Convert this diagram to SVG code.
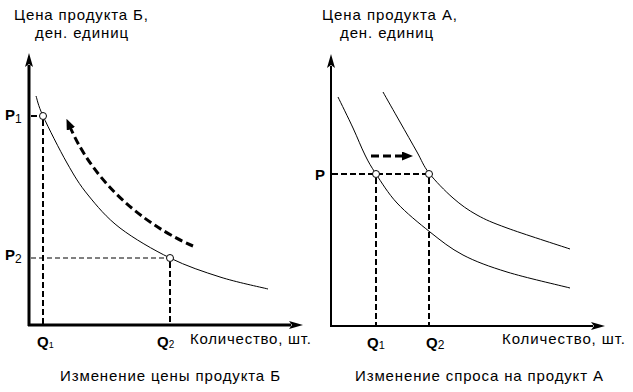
<svg xmlns="http://www.w3.org/2000/svg" width="633" height="392" viewBox="0 0 633 392">
  <style>
    text { font-family: "Liberation Sans", Arial, sans-serif; fill: #000; }
    .t { font-size: 15px; }
    .lb { font-size: 15px; font-weight: bold; }
    .sub { font-weight: normal; }
    .axisL { stroke: #000; stroke-width: 3; fill: none; }
    .axisR { stroke: #000; stroke-width: 2; fill: none; }
    .curve { stroke: #000; stroke-width: 1; fill: none; }
    .guide { stroke: #000; stroke-width: 2; fill: none; stroke-dasharray: 6 3; }
    .guideThin { stroke: #000; stroke-width: 1; fill: none; stroke-dasharray: 5 3; }
    .move { stroke: #000; stroke-width: 3; fill: none; stroke-dasharray: 8 4; }
    .pt { fill: #fff; stroke: #000; stroke-width: 1; }
  </style>
  <defs>
    <marker id="ax" markerUnits="userSpaceOnUse" viewBox="0 0 14 8" refX="2" refY="4" markerWidth="14" markerHeight="8" orient="auto">
      <path d="M0,0 L14,4 L0,8 L3,4 z" fill="#000"/>
    </marker>
    <marker id="ah" markerUnits="userSpaceOnUse" viewBox="0 0 11 9" refX="1" refY="4.5" markerWidth="11" markerHeight="9" orient="auto">
      <path d="M0,0 L11,4.5 L0,9 z" fill="#000"/>
    </marker>
  </defs>

  <!-- Left chart -->
  <g id="left-chart">
    <g id="left-axes">
      <line class="axisL" x1="29" y1="326" x2="29" y2="65" marker-end="url(#ax)"/>
      <line class="axisL" x1="28" y1="325" x2="291" y2="325" marker-end="url(#ax)"/>
    </g>
    <g id="left-guides">
      <line class="guide" x1="31" y1="116" x2="40" y2="116" stroke-dasharray="5 3"/>
      <line class="guide" x1="43" y1="120" x2="43" y2="324" stroke-dasharray="7 3"/>
      <line class="guideThin" x1="31" y1="258" x2="166" y2="258"/>
      <line class="guide" x1="170" y1="262" x2="170" y2="324"/>
    </g>
    <g id="left-curve">
      <path class="curve" d="M36,96 C37.2,99.3 37.8,104.8 43,116 C48.2,127.2 59.5,149.8 67,163 C74.5,176.2 79.2,184.2 88,195 C96.8,205.8 106.3,217.5 120,228 C133.7,238.5 153.3,249.8 170,258 C186.7,266.2 203.7,271.8 220,277 C236.3,282.2 260,287 268,289"/>
    </g>
    <g id="left-move-arrow">
      <path class="move" d="M193,246 C160,232 100,195 70.5,128" marker-end="url(#ah)"/>
    </g>
    <g id="left-points">
      <circle class="pt" cx="43" cy="116" r="3.5"/>
      <circle class="pt" cx="170" cy="258" r="3.5"/>
    </g>
    <g id="left-labels">
      <text class="t" x="14" y="20" textLength="134" lengthAdjust="spacing">Цена продукта Б,</text>
      <text class="t" x="35" y="38" textLength="93" lengthAdjust="spacing">ден. единиц</text>
      <text class="lb" x="5" y="120">P<tspan class="sub" font-size="12" dy="3">1</tspan></text>
      <text class="lb" x="5" y="260">P<tspan class="sub" font-size="12" dy="3">2</tspan></text>
      <text class="lb" x="37" y="347">Q<tspan class="sub" font-size="9" dy="1">1</tspan></text>
      <text class="lb" x="157" y="347">Q<tspan class="sub" font-size="10" dy="1">2</tspan></text>
      <text class="t" x="190" y="344" textLength="121" lengthAdjust="spacing">Количество, шт.</text>
      <text class="t" x="60" y="381" textLength="220" lengthAdjust="spacing">Изменение цены продукта Б</text>
    </g>
  </g>

  <!-- Right chart -->
  <g id="right-chart">
    <g id="right-axes">
      <line class="axisR" x1="331" y1="327" x2="331" y2="66" marker-end="url(#ax)"/>
      <line class="axisR" x1="330" y1="326" x2="593" y2="326" marker-end="url(#ax)"/>
    </g>
    <g id="right-guides">
      <line class="guide" x1="332" y1="174" x2="426" y2="174"/>
      <line class="guide" x1="376" y1="178" x2="376" y2="325" stroke-dasharray="7 3"/>
      <line class="guide" x1="429" y1="178" x2="429" y2="325" stroke-dasharray="7 3"/>
    </g>
    <g id="right-curves">
      <path class="curve" d="M338,97 C340.5,102.2 348.5,118.3 353,128 C357.5,137.7 361.2,147.3 365,155 C368.8,162.7 370.7,166 376,174 C381.3,182 388,193.3 397,203 C406,212.7 419,223.3 430,232 C441,240.7 450.2,248.3 463,255 C475.8,261.7 489.2,266.5 507,272 C524.8,277.5 559.5,285.3 570,288"/>
      <path class="curve" d="M383,92 C385.8,97 394.3,112 400,122 C405.7,132 412.2,143.5 417,152 C421.8,160.5 423,165.3 429,173 C435,180.7 445,191 453,198 C461,205 468,210 477,215 C486,220 491.5,222.3 507,228 C522.5,233.7 559.5,245.5 570,249"/>
    </g>
    <g id="right-move-arrow">
      <line class="move" x1="371" y1="156" x2="403" y2="156" marker-end="url(#ah)"/>
    </g>
    <g id="right-points">
      <circle class="pt" cx="376" cy="174" r="3.5"/>
      <circle class="pt" cx="429" cy="174" r="3.5"/>
    </g>
    <g id="right-labels">
      <text class="t" x="322" y="20" textLength="135" lengthAdjust="spacing">Цена продукта А,</text>
      <text class="t" x="340" y="38" textLength="93" lengthAdjust="spacing">ден. единиц</text>
      <text class="lb" x="315" y="180">P</text>
      <text class="lb" x="367" y="348">Q<tspan class="sub" font-size="11" dy="1">1</tspan></text>
      <text class="lb" x="426" y="348">Q<tspan class="sub" font-size="12" dy="1">2</tspan></text>
      <text class="t" x="502" y="344" textLength="123" lengthAdjust="spacing">Количество, шт.</text>
      <text class="t" x="355" y="381" textLength="248" lengthAdjust="spacing">Изменение спроса на продукт А</text>
    </g>
  </g>
</svg>
